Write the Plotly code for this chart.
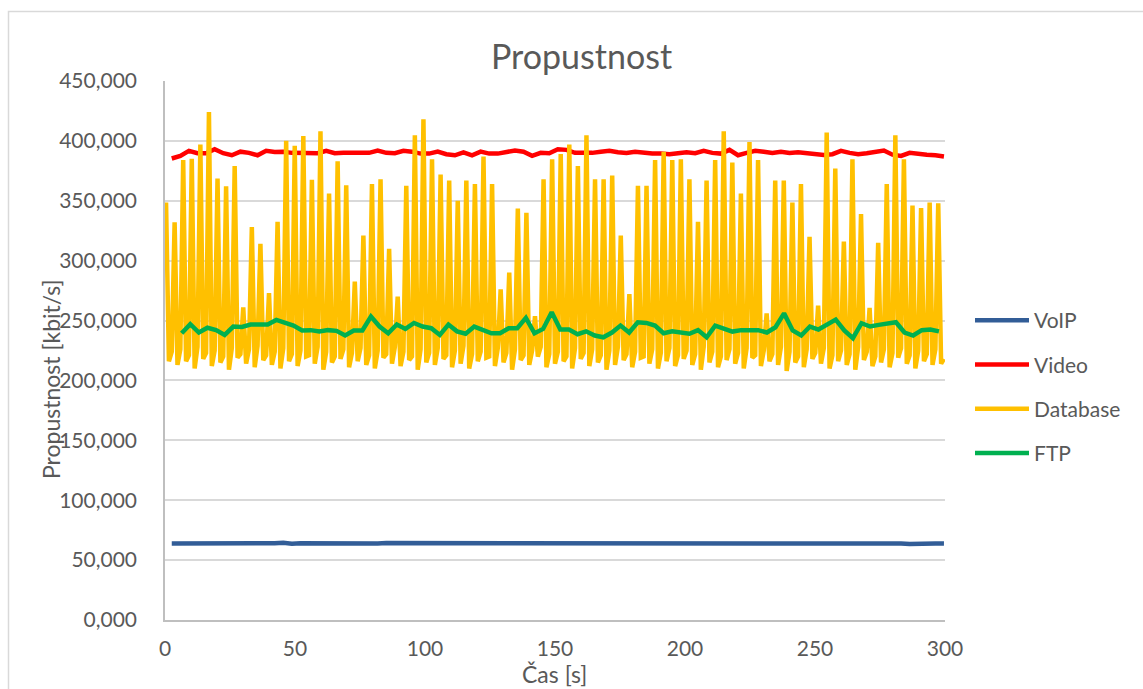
import plotly.graph_objects as go

# ---------------- data (kbit/s) ----------------
series_names = ["VoIP", "Video", "Database", "FTP"]

voip_start, voip_step = 2.6, 3.3
voip_values = [
    63.9, 63.9, 63.5, 64.2, 63.8, 64.1, 63.7, 64.0, 63.9, 64.1, 63.8, 63.9, 64.0, 64.5, 63.7, 64.1, 64.0, 63.8, 64.0, 64.1,
    63.9, 63.7, 64.0, 64.1, 63.9, 64.2, 64.2, 63.8, 64.0, 63.9, 64.0, 63.8, 64.1, 64.0, 63.9, 64.0, 64.1, 63.8, 63.9, 64.2,
    63.7, 64.0, 64.3, 63.9, 64.1, 63.8, 64.0, 63.6, 64.1, 63.9, 64.0, 64.2, 63.8, 64.0, 63.9, 64.1, 63.9, 64.0, 63.8, 64.1,
    64.0, 63.9, 64.0, 64.1, 63.9, 63.8, 64.3, 63.7, 64.0, 63.9, 64.0, 64.5, 63.8, 64.0, 63.9, 64.0, 63.8, 63.6, 64.0, 64.1,
    63.9, 64.1, 63.8, 64.0, 64.2, 63.8, 63.5, 63.9, 64.0, 63.9, 63.8,
]

video_start, video_step = 2.6, 3.3
video_values = [
    385.3, 387.5, 391.7, 389.7, 389.7, 393.0, 389.7, 388.0, 391.0, 390.0,
    388.0, 391.7, 390.8, 391.0, 390.0, 390.0, 390.0, 389.7, 391.7, 389.7,
    390.0, 390.0, 390.5, 390.0, 392.0, 390.0, 389.7, 391.7, 391.0, 389.4,
    389.4, 391.0, 388.9, 388.0, 390.5, 388.0, 391.0, 389.4, 389.4, 391.0,
    392.0, 391.0, 387.5, 390.0, 389.7, 393.0, 392.5, 390.0, 389.7, 390.0,
    391.0, 391.7, 390.5, 390.0, 391.0, 390.0, 389.4, 389.4, 388.9, 389.7,
    390.5, 389.7, 391.7, 390.0, 389.4, 392.5, 388.0, 390.0, 391.7, 391.0,
    390.0, 391.0, 390.0, 390.5, 389.7, 388.9, 388.3, 388.9, 391.7, 390.0,
    388.9, 389.7, 390.5, 392.0, 388.5, 387.5, 390.0, 389.7, 388.5, 388.0,
    387.0,
]

db_start, db_step = 0.4, 1.1
db_peaks = [
    348.6, 332.0, 384.0, 385.0, 397.0, 424.0, 368.6, 362.0, 379.0, 261.0,
    328.0, 314.0, 273.0, 332.5, 400.0, 396.0, 404.0, 367.5, 408.0, 356.0,
    383.0, 363.0, 282.5, 321.0, 364.0, 368.0, 310.0, 270.0, 362.5, 404.7,
    418.0, 384.7, 372.0, 367.0, 350.0, 367.0, 364.0, 387.0, 364.0, 276.0,
    290.0, 343.6, 340.0, 253.6, 368.0, 384.7, 389.0, 397.0, 379.0, 404.7,
    368.0, 368.0, 371.0, 321.0, 272.0, 362.5, 362.5, 384.0, 391.0, 384.0,
    384.7, 368.0, 332.5, 367.0, 384.0, 408.0, 382.0, 356.0, 399.0, 384.0,
    256.0, 367.0, 367.0, 348.6, 364.0, 320.0, 262.5, 407.0, 377.0, 316.0,
    384.7, 339.0, 260.5, 315.0, 364.0, 404.7, 384.7, 346.0, 344.0, 348.6,
    348.0,
]
db_low1 = [
    216, 213, 216, 210, 218, 212, 215, 209, 219, 214,
    211, 217, 213, 210, 216, 212, 220, 214, 209, 215,
    218, 211, 216, 213, 210, 219, 214, 212, 217, 209,
    215, 213, 218, 211, 214, 210, 216, 219, 212, 215,
    209, 217, 213, 220, 211, 214, 216, 210, 218, 212,
    215, 209, 213, 217, 211, 219, 214, 210, 216, 212,
    218, 213, 209, 215, 211, 217, 214, 210, 219, 212,
    216, 213, 208, 215, 211, 218, 214, 210, 216, 213,
    209, 217, 212, 215, 211, 219, 214, 210, 216, 213,
    214,
]
db_low2 = [
    224, 226, 221, 228, 223, 225, 220, 227, 222, 226,
    229, 221, 224, 227, 222, 225, 221, 228, 224, 220,
    226, 223, 227, 221, 225, 222, 228, 224, 220, 226,
    223, 227, 221, 225, 229, 222, 224, 220, 227, 223,
    226, 221, 225, 228, 222, 224, 220, 227, 223, 226,
    221, 225, 228, 222, 224, 220, 226, 223, 227, 221,
    225, 222, 228, 224, 220, 226, 223, 227, 221, 225,
    222, 228, 224, 220, 226, 223, 227, 221, 225, 222,
    228, 224, 220, 226, 223, 227, 221, 225, 222, 226,
    218,
]

ftp_start, ftp_step = 6.4, 3.31
ftp_values = [
    239.4, 247.0, 240.0, 244.0, 242.0, 238.0, 245.0, 244.7, 246.7, 247.0,
    246.7, 250.5, 248.6, 245.8, 241.7, 242.0, 240.8, 242.0, 241.4, 237.5,
    241.7, 241.7, 253.3, 245.0, 239.4, 246.7, 243.0, 248.0, 245.0, 243.6,
    238.0, 246.7, 241.0, 239.0, 245.0, 242.0, 239.4, 239.4, 243.6, 243.6,
    252.2, 239.4, 243.0, 257.0, 242.5, 242.5, 238.6, 241.0, 237.5, 236.0,
    240.0, 245.8, 240.0, 248.6, 248.0, 245.8, 239.4, 241.0, 240.0, 239.0,
    242.0, 236.0, 245.8, 243.0, 240.8, 242.0, 242.0, 242.0, 240.0, 244.4,
    256.0, 241.7, 237.5, 245.0, 242.5, 247.2, 250.8, 241.7, 235.3, 247.8,
    245.0, 246.4, 247.2, 248.6, 240.0, 237.5, 242.0, 242.5, 241.0,
]

x_ticks = [0, 50, 100, 150, 200, 250, 300]
y_ticks = [0, 50, 100, 150, 200, 250, 300, 350, 400, 450]

# ---------------- assemble series ----------------
db_values = []
for p, a, b in zip(db_peaks, db_low1, db_low2):
    db_values += [p, a, b]

voip_time = [voip_start + voip_step * i for i in range(len(voip_values))]
video_time = [video_start + video_step * i for i in range(len(video_values))]
db_time = [db_start + db_step * i for i in range(len(db_values))]
ftp_time = [ftp_start + ftp_step * i for i in range(len(ftp_values))]

colors = {"VoIP": "#325D97", "Video": "#FF0000", "Database": "#FFC000", "FTP": "#00B050"}
data = {
    "VoIP": (voip_time, voip_values),
    "Video": (video_time, video_values),
    "Database": (db_time, db_values),
    "FTP": (ftp_time, ftp_values),
}

FONT = "Lato"
TXT = "#595959"

fig = go.Figure()
for name in series_names:
    t, v = data[name]
    fig.add_trace(go.Scatter(
        x=t, y=v, mode="lines", name=name, legendgroup=name,
        line=dict(color=colors[name], width=4.5),
        hoverinfo="skip",
    ))

W, H = 1143, 689
L, R, T, B = 165, 198, 81, 69
pw, ph = W - L - R, H - T - B

def px_x(px):
    return (px - L) / pw

def px_y(py):
    return (H - B - py) / ph

fig.update_layout(
    width=W, height=H,
    margin=dict(l=L, r=R, t=T, b=B),
    paper_bgcolor="white", plot_bgcolor="white",
    separators=",.",
    font=dict(family=FONT, color=TXT, size=21),
    showlegend=True,
    legend=dict(
        x=px_x(970), xanchor="left",
        y=px_y(387), yanchor="middle",
        font=dict(family=FONT, size=21, color=TXT),
        tracegroupgap=14,
        itemwidth=54,
        bgcolor="rgba(0,0,0,0)",
    ),
    xaxis=dict(
        range=[0, 300], tickvals=x_ticks, ticks="",
        showgrid=False, zeroline=False,
        showline=True, linecolor="#BFBFBF", linewidth=1.5,
        tickfont=dict(family=FONT, size=21, color=TXT),
        ticklabelstandoff=9,
    ),
    yaxis=dict(
        range=[0, 450], tickvals=y_ticks, tickformat=".3f", ticks="",
        showgrid=True, gridcolor="#D9D9D9", gridwidth=1.5,
        zeroline=False,
        showline=True, linecolor="#BFBFBF", linewidth=1.5,
        tickfont=dict(family=FONT, size=21, color=TXT),
        ticklabelstandoff=22,
    ),
    annotations=[
        dict(text="Propustnost", xref="paper", yref="paper",
             x=(581 - L) / pw, y=px_y(56), xanchor="center", yanchor="middle",
             showarrow=False, font=dict(family=FONT, size=34, color=TXT)),
        dict(text="Čas [s]", xref="paper", yref="paper",
             x=px_x(554.5), y=px_y(674), xanchor="center", yanchor="middle",
             showarrow=False, font=dict(family=FONT, size=23, color=TXT)),
        dict(text="Propustnost [kbit/s]", xref="paper", yref="paper",
             x=px_x(51), y=px_y(379), xanchor="center", yanchor="middle",
             textangle=-90, showarrow=False,
             font=dict(family=FONT, size=23, color=TXT)),
    ],
    shapes=[
        dict(type="rect", xref="paper", yref="paper",
             x0=px_x(8.5), x1=px_x(1160), y0=px_y(700), y1=px_y(11.5),
             line=dict(color="#D9D9D9", width=1.5), fillcolor="rgba(0,0,0,0)",
             layer="below"),
    ],
)

fig.write_html("out.html")
